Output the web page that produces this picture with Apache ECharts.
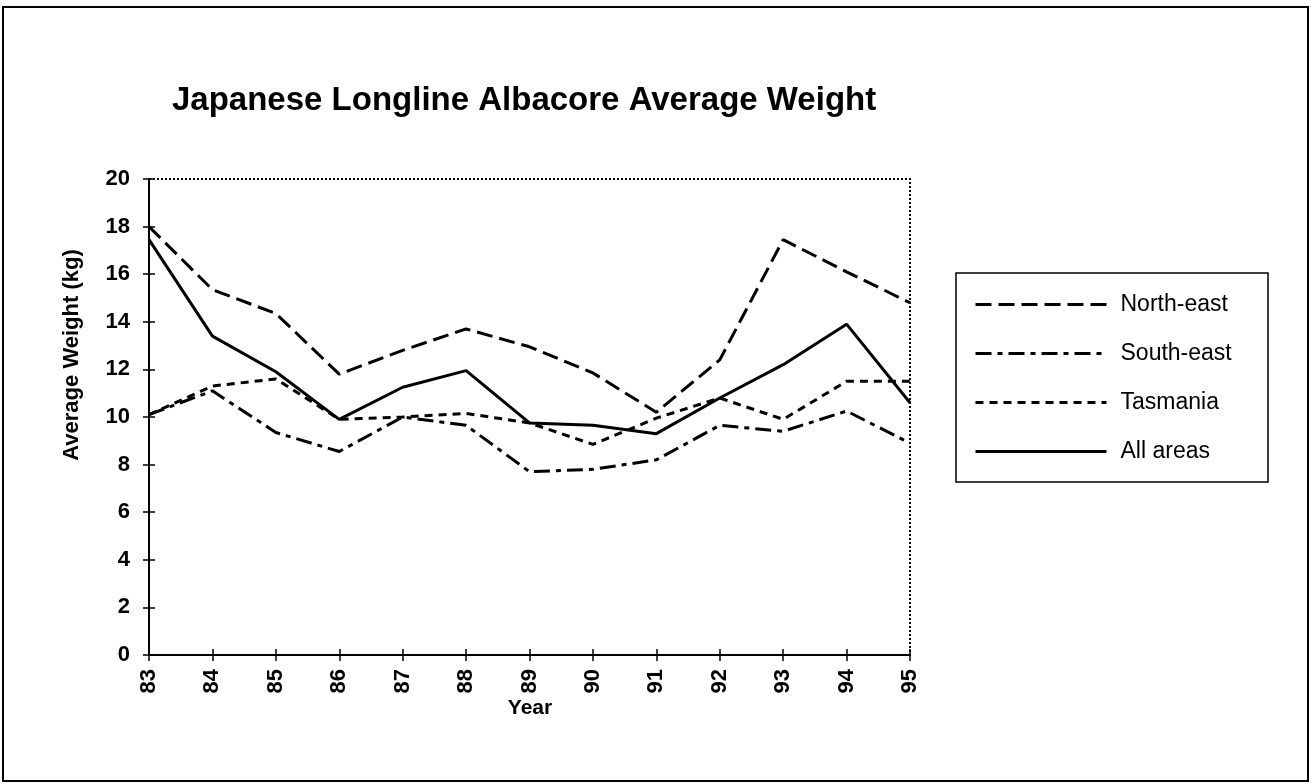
<!DOCTYPE html>
<html>
<head>
<meta charset="utf-8">
<script src="https://cdn.jsdelivr.net/npm/echarts@6/dist/echarts.min.js"></script>
<style>
  html, body { margin: 0; padding: 0; background: #fff; }
  #chart { width: 1312px; height: 784px; }
</style>
</head>
<body>
<div id="chart"></div>
<script>
// Japanese longline albacore average weight (kg) by year and area
const years = ['83', '84', '85', '86', '87', '88', '89', '90', '91', '92', '93', '94', '95'];
const northEast = [18.0, 15.35, 14.35, 11.8, 12.8, 13.7, 12.95, 11.85, 10.2, 12.4, 17.45, 16.1, 14.8];
const southEast = [10.1, 11.1, 9.35, 8.55, 10.0, 9.65, 7.7, 7.8, 8.2, 9.65, 9.4, 10.25, 8.9];
const tasmania  = [10.1, 11.3, 11.6, 9.9, 10.0, 10.15, 9.75, 8.85, 9.95, 10.8, 9.9, 11.5, 11.5];
const allAreas  = [17.45, 13.4, 11.9, 9.9, 11.25, 11.95, 9.75, 9.65, 9.3, 10.8, 12.2, 13.9, 10.6];
const yTicks = [0, 20, 2]; // min, max, interval

const FONT = '"Liberation Sans", Arial, Helvetica, sans-serif';
const chart = echarts.init(document.getElementById('chart'), null, { renderer: 'canvas' });

function lineSeries(name, data, type) {
  return {
    name: name,
    type: 'line',
    data: data,
    symbol: 'none',
    xAxisIndex: 0,
    yAxisIndex: 0,
    lineStyle: { color: '#000', width: 3, type: type, cap: 'butt' },
    itemStyle: { color: '#000' },
    emphasis: { disabled: true },
    animation: false
  };
}

const grid = { left: 149, right: 402, top: 179, bottom: 129, show: true,
  borderColor: '#000', borderWidth: 2, borderType: [2, 2] };

const tickFont = { fontFamily: FONT, fontSize: 22, fontWeight: 'bold', color: '#000' };

chart.setOption({
  animation: false,
  backgroundColor: '#fff',
  title: {
    text: 'Japanese Longline Albacore Average Weight',
    left: 167, top: 79,
    textStyle: { fontFamily: FONT, fontWeight: 'bold', fontSize: 33, color: '#000' }
  },
  grid: grid,
  legend: {
    orient: 'vertical',
    left: 974, top: 293,
    padding: 0,
    itemWidth: 131, itemHeight: 23, itemGap: 26,
    itemStyle: { opacity: 0 },
    lineStyle: { width: 3, type: 'inherit', color: '#000', cap: 'butt' },
    textStyle: { fontFamily: FONT, fontSize: 23, color: '#000', padding: [0, 0, 0, 9] },
    data: ['North-east', 'South-east', 'Tasmania', 'All areas'],
    selectedMode: false
  },
  xAxis: [
    {
      type: 'category', data: years, boundaryGap: false,
      axisLine: { lineStyle: { color: '#000', width: 2 } },
      axisTick: { show: true, length: 6, lineStyle: { color: '#000', width: 1.5 } },
      axisLabel: Object.assign({ rotate: 90, margin: 14 }, tickFont),
      splitLine: { show: false }
    },
    {
      type: 'category', data: years, boundaryGap: false, position: 'bottom',
      axisLine: { show: false },
      axisTick: { show: true, inside: true, length: 6, lineStyle: { color: '#000', width: 1.5 } },
      axisLabel: { show: false },
      splitLine: { show: false }
    }
  ],
  yAxis: [
    {
      type: 'value', min: yTicks[0], max: yTicks[1], interval: yTicks[2],
      axisLine: { show: true, lineStyle: { color: '#000', width: 2 } },
      axisTick: { show: true, length: 6, lineStyle: { color: '#000', width: 1.5 } },
      axisLabel: Object.assign({ margin: 19 }, tickFont),
      splitLine: { show: false }
    },
    {
      type: 'value', min: yTicks[0], max: yTicks[1], interval: yTicks[2], position: 'left',
      axisLine: { show: false },
      axisTick: { show: true, inside: true, length: 6, lineStyle: { color: '#000', width: 1.5 } },
      axisLabel: { show: false },
      splitLine: { show: false }
    }
  ],
  series: [
    lineSeries('North-east', northEast, [16, 7]),
    lineSeries('South-east', southEast, [16, 6, 5, 6]),
    lineSeries('Tasmania', tasmania, [8, 6]),
    lineSeries('All areas', allAreas, 'solid')
  ],
  graphic: [
    { type: 'rect', silent: true, z: -1,
      shape: { x: 3, y: 7, width: 1305, height: 774 },
      style: { fill: null, stroke: '#000', lineWidth: 2 } },
    { type: 'rect', silent: true,
      shape: { x: 956, y: 273, width: 312, height: 209 },
      style: { fill: null, stroke: '#000', lineWidth: 1.5 } },
    { type: 'text', silent: true, x: 72, y: 355, rotation: Math.PI / 2,
      style: { text: 'Average Weight (kg)', fontFamily: FONT, fontWeight: 'bold', fontSize: 22,
        fill: '#000', align: 'center', verticalAlign: 'middle' } },
    { type: 'text', silent: true, x: 530, y: 708,
      style: { text: 'Year', fontFamily: FONT, fontWeight: 'bold', fontSize: 21,
        fill: '#000', align: 'center', verticalAlign: 'middle' } }
  ]
});
</script>
</body>
</html>
